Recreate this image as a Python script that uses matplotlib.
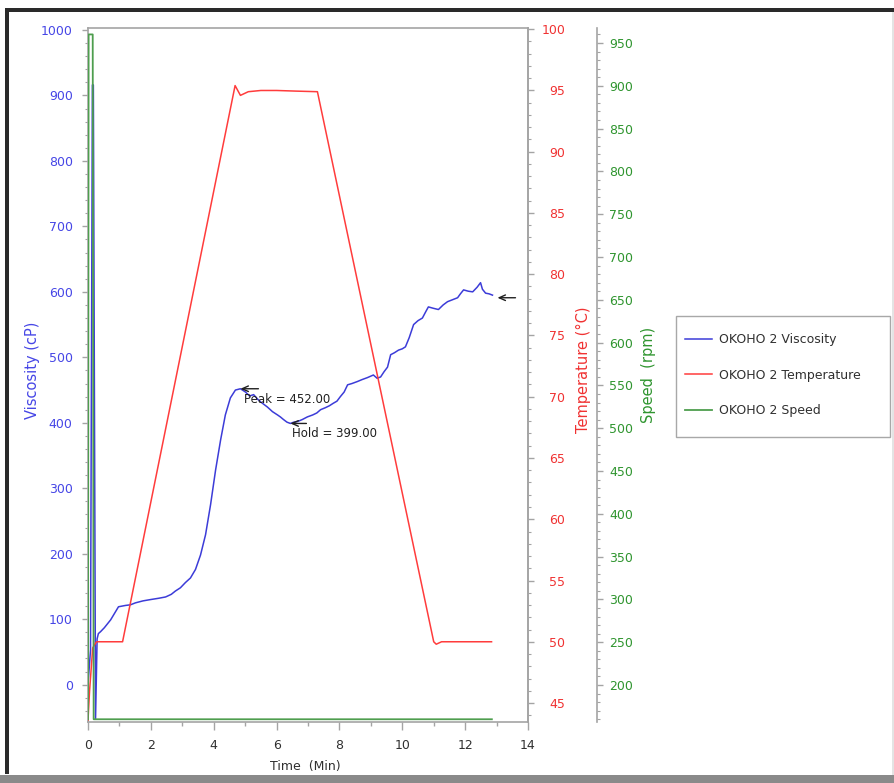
import matplotlib
matplotlib.use("Agg")
import matplotlib.pyplot as plt
from matplotlib.patches import Rectangle
from matplotlib.ticker import MultipleLocator
from matplotlib.transforms import offset_copy

plt.rcParams['font.family'] = ['DejaVu Sans']

# ---------------- data ----------------
visc_time = [0.00, 0.08, 0.14, 0.17, 0.24, 0.29, 0.33, 0.40, 0.52, 0.62, 0.72, 0.87, 0.97,
             1.19, 1.35, 1.51, 1.75, 1.99, 2.25, 2.47, 2.65, 2.78, 2.94, 3.10, 3.26, 3.42,
             3.58, 3.74, 3.90, 4.06, 4.22, 4.37, 4.53, 4.69, 4.85, 5.01, 5.14, 5.27, 5.40,
             5.49, 5.60, 5.71, 5.87, 6.03, 6.12, 6.22, 6.33, 6.44, 6.55, 6.67, 6.82, 6.98,
             7.15, 7.28, 7.40, 7.55, 7.68, 7.81, 7.92, 8.03, 8.15, 8.26, 8.40, 8.57, 8.72,
             8.89, 9.08, 9.20, 9.31, 9.42, 9.53, 9.63, 9.75, 9.88, 10.00, 10.10, 10.22,
             10.36, 10.50, 10.64, 10.75, 10.83, 10.98, 11.15, 11.30, 11.44, 11.60, 11.76,
             11.85, 11.95, 12.10, 12.24, 12.38, 12.49, 12.55, 12.65, 12.76, 12.87]
visc_vals = [0, 53, 916, 916, -52, 70, 78, 81, 87, 93, 99, 111, 119,
             121, 122, 125, 128, 130, 132, 134, 138, 143, 148, 156, 163, 176,
             198, 229, 275, 328, 374, 412, 438, 450, 452, 447, 441, 443, 436,
             432, 428, 424, 417, 412, 409, 405, 401, 399, 401, 402, 405, 409,
             412, 415, 420, 423, 426, 430, 433, 440, 447, 458, 460, 463, 466,
             469, 473, 468, 470, 478, 485, 504, 507, 511, 513, 516, 530,
             550, 556, 560, 570, 577, 575, 573, 580, 585, 588, 591,
             597, 603, 601, 600, 607, 614, 604, 598, 597, 595]

temp_time = [0.00, 0.05, 0.15, 0.27, 1.10, 4.68, 4.85, 5.10, 5.50, 6.00, 6.60, 7.30,
             11.00, 11.08, 11.25, 12.84]
temp_vals = [43.6, 46.0, 49.5, 50.0, 50.0, 95.4, 94.6, 94.9, 95.0, 95.0, 94.95, 94.9,
             50.0, 49.8, 50.0, 50.0]

speed_time = [0.00, 0.02, 0.15, 0.18, 12.85]
speed_vals = [160, 960, 960, 160, 160]

peak_time, peak_visc = 4.85, 452.00
hold_time, hold_visc = 6.44, 399.00
final_visc = 591

series_labels = ['OKOHO 2 Viscosity', 'OKOHO 2 Temperature', 'OKOHO 2 Speed']
x_ticks = [0, 2, 4, 6, 8, 10, 12, 14]
visc_ticks = [0, 100, 200, 300, 400, 500, 600, 700, 800, 900, 1000]
temp_ticks = [45, 50, 55, 60, 65, 70, 75, 80, 85, 90, 95, 100]
speed_ticks = [200, 250, 300, 350, 400, 450, 500, 550, 600, 650, 700, 750, 800, 850, 900, 950]

# ---------------- style ----------------
BLUE = '#3c3cd8'
BLUE_T = '#4646e6'
RED = '#ff3c3c'
RED_T = '#f03232'
GREEN = '#4e9e4e'
GREEN_T = '#2f952f'
SPINE = '#a4a4a4'
FS = 9
LFS = 10.5

W, H = 895, 783
fig = plt.figure(figsize=(W / 100, H / 100), dpi=100)
fig.patch.set_facecolor('white')

ax = fig.add_axes([88 / W, 1 - 722 / H, 440 / W, 694 / H])
ax2 = ax.twinx()
ax3 = ax.twinx()
ax3.spines['right'].set_position(('axes', 1 + 69 / 440))

l1, = ax.plot(visc_time, visc_vals, color=BLUE, lw=1.1)
l2, = ax2.plot(temp_time, temp_vals, color=RED, lw=1.1)
l3, = ax3.plot(speed_time, speed_vals, color=GREEN, lw=1.3)

ax.set_xlim(0, 14)
ax.set_ylim(-57, 1003)
ax2.set_ylim(43.45, 100.1)
ax3.set_ylim(156.8, 967.5)

for a in (ax, ax2, ax3):
    for s in a.spines.values():
        s.set_color(SPINE)
        s.set_linewidth(1.2)
for s in ('left', 'top', 'bottom'):
    ax3.spines[s].set_visible(False)
    ax2.spines[s].set_visible(False)

ax.set_xticks(x_ticks)
ax.xaxis.set_minor_locator(MultipleLocator(1))
ax.set_yticks(visc_ticks)
ax.yaxis.set_minor_locator(MultipleLocator(20))
ax2.set_yticks(temp_ticks)
ax2.yaxis.set_minor_locator(MultipleLocator(1))
ax3.set_yticks(speed_ticks)
ax3.yaxis.set_minor_locator(MultipleLocator(10))

ax.tick_params(axis='x', which='major', direction='out', length=6, width=1, color=SPINE,
               labelsize=FS, labelcolor='#303030', pad=6)
ax.tick_params(axis='x', which='minor', direction='out', length=3, width=1, color=SPINE)
ax.tick_params(axis='y', which='major', direction='out', length=4, width=1, color=SPINE,
               labelsize=FS, labelcolor=BLUE_T, pad=7)
ax.tick_params(axis='y', which='minor', direction='out', length=2, width=0.8, color=SPINE)
ax2.tick_params(axis='y', which='major', direction='out', length=4, width=1, color=SPINE,
                labelsize=FS, labelcolor=RED_T, pad=23)
ax2.tick_params(axis='y', which='minor', direction='out', length=2, width=0.8, color=SPINE)
for lab in ax2.get_yticklabels():
    lab.set_horizontalalignment('right')
ax3.tick_params(axis='y', which='major', direction='out', length=4, width=1, color=SPINE,
                labelsize=FS, labelcolor=GREEN_T, pad=5)
ax3.tick_params(axis='y', which='minor', direction='out', length=2, width=0.8, color=SPINE)

ax.set_xlabel('Time  (Min)', fontsize=FS, color='#303030')
ax.xaxis.set_label_coords(0.493, -0.0635)
ax.xaxis.label.set_va('center')
ax.set_ylabel('Viscosity (cP)', fontsize=LFS, color=BLUE_T)
ax.yaxis.set_label_coords(-0.125, 0.507)
ax.yaxis.label.set_va('center')
ax2.set_ylabel('Temperature (°C)', fontsize=LFS, color=RED_T)
ax2.yaxis.set_label_coords(1.125, 0.507)
ax2.yaxis.label.set_va('center')
ax3.set_ylabel('Speed  (rpm)', fontsize=LFS, color=GREEN_T)
ax3.yaxis.set_label_coords(1.273, 0.50)
ax3.yaxis.label.set_va('center')

# annotations
arrow = dict(arrowstyle='->,head_length=0.45,head_width=0.2', color='#202020', lw=1,
             shrinkA=0, shrinkB=0)
ax.annotate('', xy=(peak_time, peak_visc), xytext=(18, 0), textcoords='offset pixels',
            arrowprops=arrow)
ax.annotate(f'Peak = {peak_visc:.2f}', xy=(peak_time, peak_visc), xytext=(4, -4),
            textcoords='offset pixels', ha='left', va='top', fontsize=8.5, color='#202020')
ax.annotate('', xy=(hold_time, hold_visc), xytext=(16, 0), textcoords='offset pixels',
            arrowprops=arrow)
ax.annotate(f'Hold = {hold_visc:.2f}', xy=(hold_time, hold_visc), xytext=(2, -4),
            textcoords='offset pixels', ha='left', va='top', fontsize=8.5, color='#202020')
final_tr = offset_copy(ax.transData, fig=fig, x=5, y=0, units='dots')
ax.annotate('', xy=(visc_time[-1], final_visc), xycoords=final_tr, xytext=(18, 0),
            textcoords='offset pixels', arrowprops=arrow)

# legend (entries) + its frame
leg = fig.legend([l1, l2, l3], series_labels, loc='upper left',
                 bbox_to_anchor=(685 / W, 1 - 333 / H), fontsize=FS, frameon=False,
                 handlelength=2.2, handletextpad=0.5, labelspacing=1.8, borderpad=0,
                 borderaxespad=0)
for t in leg.get_texts():
    t.set_color('#303030')
fig.add_artist(Rectangle((676 / W, 1 - 437 / H), 214 / W, 121 / H, transform=fig.transFigure,
                         facecolor='none', edgecolor='#a8a8a8', lw=1.0))

# screenshot frame
fig.add_artist(Rectangle((5 / W, 1 - 12 / H), 890 / W, 4 / H, transform=fig.transFigure,
                         color='#2a2a2a', lw=0))
fig.add_artist(Rectangle((5 / W, 1 - 774 / H), 4 / W, 766 / H, transform=fig.transFigure,
                         color='#2a2a2a', lw=0))
fig.add_artist(Rectangle((0, 0), 1, 8 / H, transform=fig.transFigure,
                         color='#8a8a8a', lw=0))
fig.add_artist(Rectangle((892 / W, 8 / H), 3 / W, 1 - 20 / H, transform=fig.transFigure,
                         color='#e4e4e4', lw=0))

fig.savefig('out.png', dpi=100, facecolor='white')
